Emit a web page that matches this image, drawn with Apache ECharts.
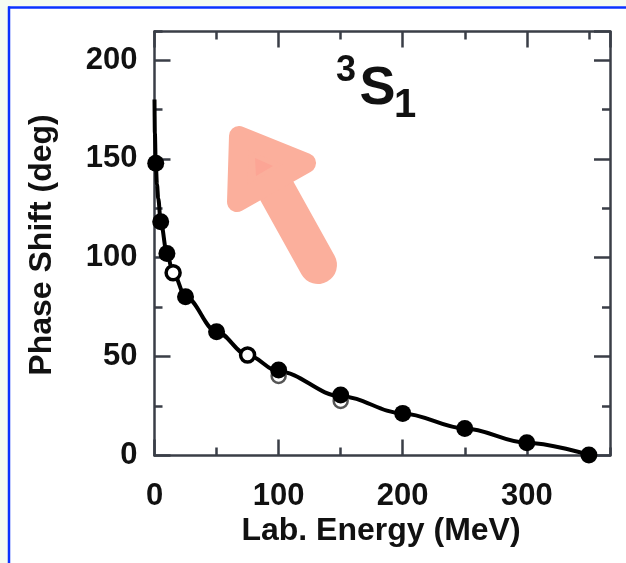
<!DOCTYPE html>
<html>
<head>
<meta charset="utf-8">
<script src="https://cdn.jsdelivr.net/npm/echarts@6/dist/echarts.min.js"></script>
<style>
html,body{margin:0;padding:0;background:#ffffff;}
#chart{position:absolute;left:0;top:0;width:626px;height:563px;}
</style>
</head>
<body>
<div id="chart"></div>
<script>
// ---- data ----
const xTicksMajor = [0, 100, 200, 300];
const yTicksMajor = [0, 50, 100, 150, 200];
const xTitle = 'Lab. Energy (MeV)';
const yTitle = 'Phase Shift (deg)';

// filled circles (energy MeV, phase shift deg)
const filledE = [1, 5, 10, 25, 50, 100, 150, 200, 250, 300, 350];
const filledDelta = [147.8, 118.2, 102.2, 80.3, 62.6, 43.2, 30.6, 21.3, 13.7, 6.5, 0.3];
// open circles
const openE = [15, 75];
const openDelta = [92.4, 50.8];
// open circles mostly hidden behind filled ones
const openBehindE = [100, 150];
const openBehindDelta = [40.2, 27.6];
// continuous curve
const curveE = [0, 0.3, 1, 2, 3, 5, 10, 15, 25, 50, 75, 100, 150, 200, 250, 300, 350];
const curveDelta = [180, 163, 147.8, 137, 130, 118.2, 102.2, 92.4, 80.3, 62.6, 50.8, 42.5, 30, 21.3, 13.7, 6.5, 0.3];

const X_MIN = 0, X_MAX = 367, Y_MIN = 0, Y_MAX = 214.4;

const zip = (a, b) => a.map((v, i) => [v, b[i]]);

const AXIS_COLOR = '#3a3e47';
const FONT = '"Liberation Sans", Arial, Helvetica, sans-serif';

function mkAxis(pos, interval, tickLen, showLine, showLabel, isX) {
  const majors = isX ? xTicksMajor : yTicksMajor;
  return {
    type: 'value',
    position: pos,
    min: isX ? X_MIN : Y_MIN,
    max: isX ? X_MAX : Y_MAX,
    interval: interval,
    axisLine: { show: showLine, onZero: false, lineStyle: { color: AXIS_COLOR, width: 2.5 } },
    axisTick: { show: true, inside: true, length: tickLen, lineStyle: { color: AXIS_COLOR, width: 2.5 } },
    axisLabel: showLabel ? {
      show: true,
      margin: isX ? 25 : 17,
      color: '#111',
      fontFamily: FONT,
      fontWeight: 'bold',
      fontSize: 31,
      showMaxLabel: false,
      formatter: v => (majors.indexOf(v) >= 0 ? String(v) : '')
    } : { show: false },
    splitLine: { show: false },
    minorTick: { show: false }
  };
}

const chart = echarts.init(document.getElementById('chart'), null, { renderer: 'canvas' });

const arrowColor = '#fbaf9c';

chart.setOption({
  backgroundColor: '#ffffff',
  animation: false,
  grid: { left: 154.5, right: 16, top: 31.5, bottom: 107.5, containLabel: false },
  xAxis: [
    mkAxis('bottom', 100, 16, true, true, true),
    mkAxis('bottom', 50, 8, false, false, true),
    mkAxis('top', 100, 16, true, false, true),
    mkAxis('top', 50, 8, false, false, true)
  ],
  yAxis: [
    mkAxis('left', 50, 16, true, true, false),
    mkAxis('left', 25, 8, false, false, false),
    mkAxis('right', 50, 16, true, false, false),
    mkAxis('right', 25, 8, false, false, false)
  ],
  series: [
    {
      type: 'line',
      data: zip(curveE, curveDelta),
      showSymbol: false,
      smooth: 0.35,
      smoothMonotone: 'x',
      lineStyle: { color: '#000', width: 4 },
      z: 2
    },
    {
      type: 'scatter',
      data: zip(openBehindE, openBehindDelta),
      symbol: 'circle',
      symbolSize: 14,
      itemStyle: { color: '#fff', borderColor: '#555', borderWidth: 2.5, opacity: 1 },
      z: 3
    },
    {
      type: 'scatter',
      data: zip(openE, openDelta),
      symbol: 'circle',
      symbolSize: 14,
      itemStyle: { color: '#fff', borderColor: '#000', borderWidth: 3.5, opacity: 1 },
      z: 4
    },
    {
      type: 'scatter',
      data: zip(filledE, filledDelta),
      symbol: 'circle',
      symbolSize: 17,
      itemStyle: { color: '#000', opacity: 1 },
      z: 5
    }
  ],
  graphic: [
    // faint slide background outside the frame
    { type: 'rect', shape: { x: 0, y: 0, width: 626, height: 6 }, style: { fill: '#f5fcf2' }, silent: true, z: 0 },
    { type: 'rect', shape: { x: 0, y: 0, width: 8, height: 563 }, style: { fill: '#f5fcf2' }, silent: true, z: 0 },
    // blue frame
    { type: 'line', shape: { x1: 8, y1: 7.5, x2: 626, y2: 7.5 }, style: { stroke: '#0a33ff', lineWidth: 2.5 }, silent: true, z: 1 },
    { type: 'line', shape: { x1: 9, y1: 6.5, x2: 9, y2: 563 }, style: { stroke: '#0a33ff', lineWidth: 2.5 }, silent: true, z: 1 },
    // axis titles
    {
      type: 'text', x: 381, y: 531, z: 10,
      style: { text: xTitle, fill: '#111', font: 'bold 32px ' + FONT, align: 'center', verticalAlign: 'middle' }
    },
    {
      type: 'text', x: 42, y: 245, rotation: Math.PI / 2, z: 10,
      style: { text: yTitle, fill: '#111', font: 'bold 32px ' + FONT, align: 'center', verticalAlign: 'middle' }
    },
    // panel label 3S1
    { type: 'text', x: 346, y: 71, z: 10, style: { text: '3', fill: '#111', font: 'bold 36px ' + FONT, align: 'center', verticalAlign: 'middle' } },
    { type: 'text', x: 377.5, y: 89, z: 10, style: { text: 'S', fill: '#111', font: 'bold 54px ' + FONT, align: 'center', verticalAlign: 'middle' } },
    { type: 'text', x: 405, y: 106, z: 10, style: { text: '1', fill: '#111', font: 'bold 40px ' + FONT, align: 'center', verticalAlign: 'middle' } },
    // salmon arrow annotation
    {
      type: 'line', z: 20, silent: true,
      shape: { x1: 268, y1: 175, x2: 318, y2: 265 },
      style: { stroke: arrowColor, lineWidth: 38, lineCap: 'round' }
    },
    {
      type: 'polygon', z: 21, silent: true,
      shape: { points: [[239, 136], [306, 163], [237, 202]] },
      style: { fill: arrowColor, stroke: arrowColor, lineWidth: 20, lineJoin: 'round' }
    },
    {
      type: 'polygon', z: 22, silent: true,
      shape: { points: [[255, 158], [273, 166], [256, 176]] },
      style: { fill: '#fca595' }
    }
  ]
});
</script>
</body>
</html>
